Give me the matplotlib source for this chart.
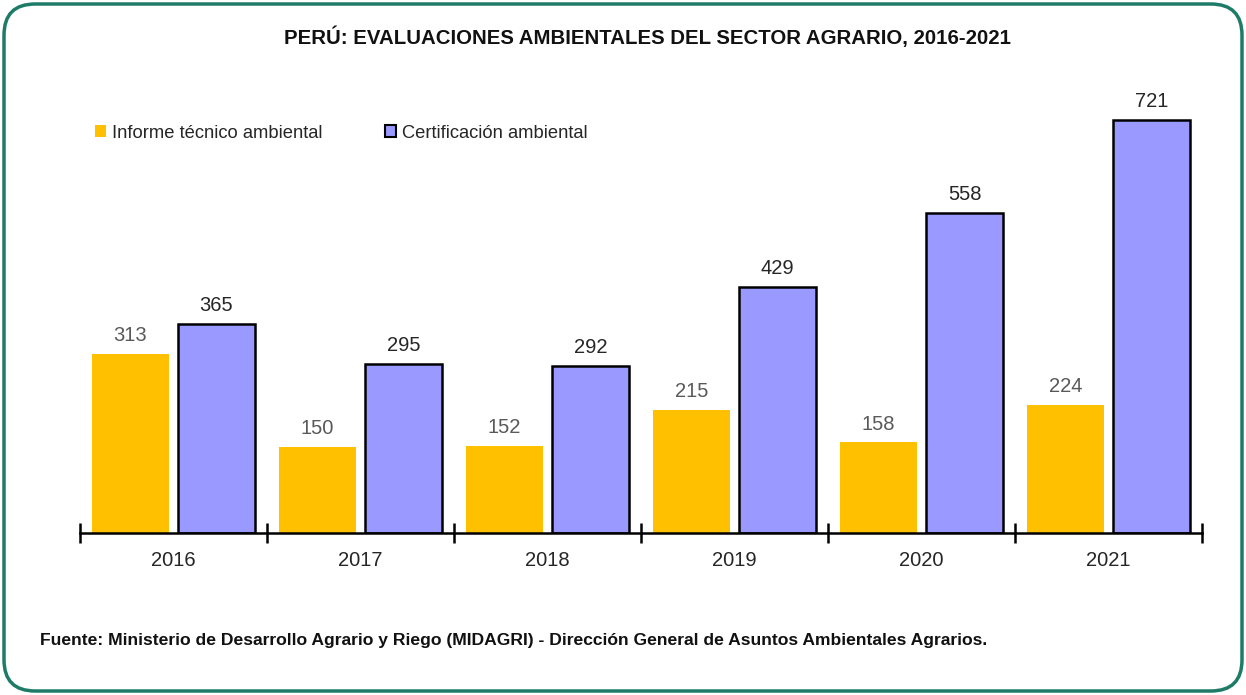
import matplotlib.pyplot as plt
import numpy as np
from matplotlib.patches import FancyBboxPatch, Patch

plt.rcParams['font.family'] = ['Liberation Sans', 'DejaVu Sans']

years = ['2016', '2017', '2018', '2019', '2020', '2021']
informe = [313, 150, 152, 215, 158, 224]
certificacion = [365, 295, 292, 429, 558, 721]

W, H = 1246, 695
fig = plt.figure(figsize=(W / 100, H / 100), dpi=100)

# rounded green frame, kept behind the axes
frame = FancyBboxPatch((4 / W, 4 / H), 1 - 8 / W, 1 - 8 / H,
                       boxstyle='round,pad=0,rounding_size=0.025',
                       transform=fig.transFigure, facecolor='white',
                       edgecolor='#1E7B68', linewidth=2.5, mutation_aspect=W / H,
                       zorder=-5)
fig.patches.append(frame)

ax = fig.add_axes([80 / W, (H - 533) / H, 1122 / W, (533 - 80) / H])
ax.set_facecolor('none')
ax.set_zorder(2)

x = np.arange(len(years)) + 0.5
bw = 0.417
off = 0.23
b1 = ax.bar(x - off, informe, bw, color='#FFC000', edgecolor='none')
b2 = ax.bar(x + off, certificacion, bw, color='#9999FF', edgecolor='black', linewidth=1.8)

for rect, v in zip(b1, informe):
    ax.text(rect.get_x() + rect.get_width() / 2, v + 15, str(v),
            ha='center', va='bottom', fontsize=14.5, color='#595959')
for rect, v in zip(b2, certificacion):
    ax.text(rect.get_x() + rect.get_width() / 2, v + 15, str(v),
            ha='center', va='bottom', fontsize=14.5, color='#262626')

ax.set_xlim(0, len(years))
ax.set_ylim(0, 790)
for s in ['top', 'right', 'left']:
    ax.spines[s].set_visible(False)
ax.spines['bottom'].set_linewidth(1.8)
ax.set_yticks([])
ax.set_xticks(np.arange(len(years) + 1))
ax.set_xticklabels([])
ax.tick_params(axis='x', which='major', direction='inout', length=14, width=1.8)
ax.set_xticks(x, minor=True)
ax.set_xticklabels(years, minor=True, fontsize=14.5, color='#262626')
ax.tick_params(axis='x', which='minor', length=0, pad=13)

handles = [Patch(facecolor='#FFC000', edgecolor='none', label='Informe técnico ambiental'),
           Patch(facecolor='#9999FF', edgecolor='black', linewidth=1.5, label='Certificación ambiental')]
fig.legend(handles=handles, loc='center left', bbox_to_anchor=(78 / W, 1 - 133 / H),
           ncol=2, frameon=False, fontsize=13.2, handlelength=0.6, handleheight=0.6,
           handletextpad=0.35, columnspacing=3.4, labelcolor='#262626')

fig.text(648 / W, 1 - 37 / H, 'PERÚ: EVALUACIONES AMBIENTALES DEL SECTOR AGRARIO, 2016-2021',
         ha='center', va='center', fontsize=14.7, fontweight='bold', color='#111111')
fig.text(40 / W, 1 - 640 / H,
         'Fuente: Ministerio de Desarrollo Agrario y Riego (MIDAGRI) - Dirección General de Asuntos Ambientales Agrarios.',
         ha='left', va='center', fontsize=12.6, fontweight='bold', color='#111111')

fig.savefig('out.png', dpi=100)
